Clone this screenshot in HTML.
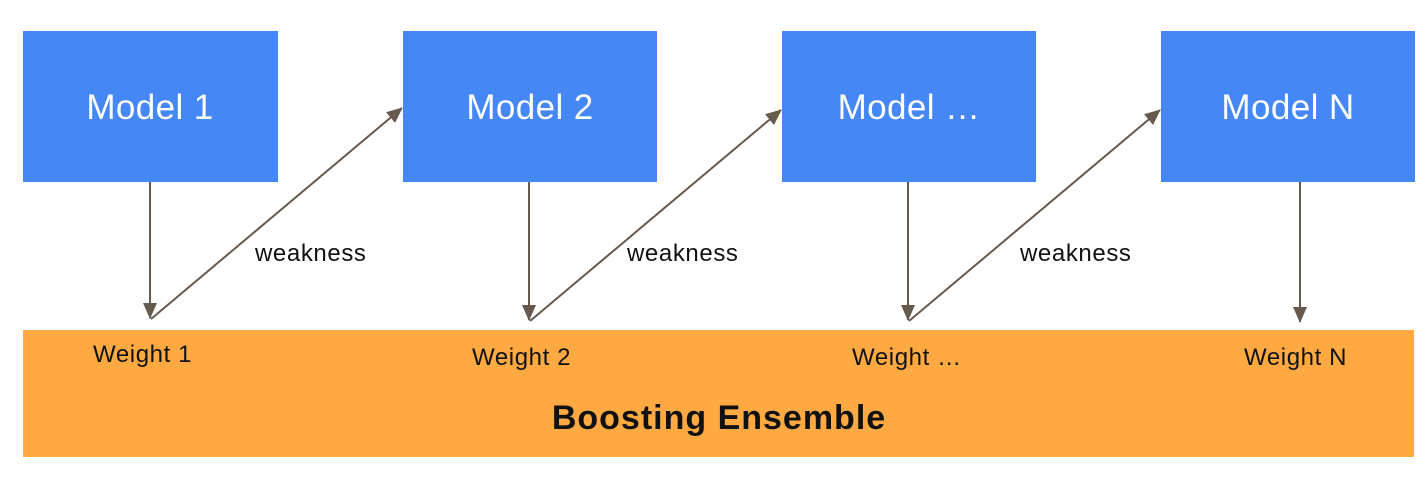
<!DOCTYPE html>
<html><head><style>
body{margin:0;width:1428px;height:481px;background:#fff;overflow:hidden;font-family:"Liberation Sans",sans-serif;}
</style></head><body>
<svg width="1428" height="481" xmlns="http://www.w3.org/2000/svg" font-family="Liberation Sans, sans-serif">
<defs>
<marker id="b" markerWidth="16" markerHeight="14" refX="15" refY="7" orient="auto" markerUnits="userSpaceOnUse" viewBox="0 0 16 14"><path d="M0,0 L16,7 L0,14z" fill="#665a4e"/></marker></defs>
<rect x="23" y="330" width="1391" height="127" fill="#fea942"/>
<g fill="#4587f4">
<rect x="23" y="31" width="255" height="151"/>
<rect x="403" y="31" width="254" height="151"/>
<rect x="782" y="31" width="254" height="151"/>
<rect x="1161" y="31" width="254" height="151"/>
</g>
<g fill="#fff" font-size="35" letter-spacing="0.4" text-anchor="middle">
<text x="150" y="119">Model 1</text>
<text x="530" y="119">Model 2</text>
<text x="909" y="119">Model …</text>
<text x="1288" y="119">Model N</text>
</g>
<g stroke="#665a4e" stroke-width="2" fill="none">
<line x1="150" y1="182" x2="150" y2="318" marker-end="url(#b)"/>
<line x1="529" y1="182" x2="529" y2="320" marker-end="url(#b)"/>
<line x1="908" y1="182" x2="908" y2="320" marker-end="url(#b)"/>
<line x1="1300" y1="182" x2="1300" y2="322" marker-end="url(#b)"/>
<line x1="151" y1="319" x2="402" y2="108" marker-end="url(#b)"/>
<line x1="530" y1="321" x2="781" y2="110" marker-end="url(#b)"/>
<line x1="909" y1="321" x2="1160" y2="110" marker-end="url(#b)"/>
</g>
<g fill="#111" font-size="24" letter-spacing="0.6">
<text x="255" y="261">weakness</text>
<text x="627" y="261">weakness</text>
<text x="1020" y="261">weakness</text>
<text x="93" y="362">Weight 1</text>
<text x="472" y="365">Weight 2</text>
<text x="852" y="365">Weight …</text>
<text x="1244" y="365">Weight N</text>
</g>
<text x="719" y="429" font-size="34" letter-spacing="1" font-weight="bold" text-anchor="middle" fill="#111">Boosting Ensemble</text>
</svg>
</body></html>
